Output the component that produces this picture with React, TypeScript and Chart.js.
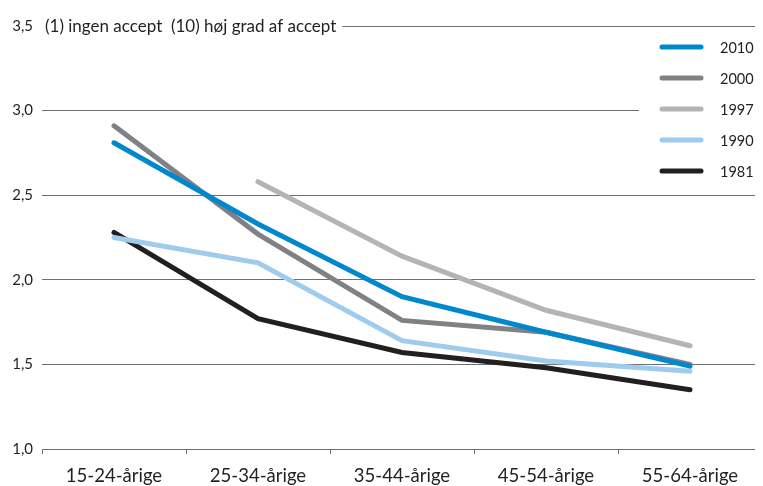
import React, { useEffect, useRef } from "react";
import { Chart, registerables } from "chart.js";

Chart.register(...registerables);

const categories = ["15-24-årige", "25-34-årige", "35-44-årige", "45-54-årige", "55-64-årige"];
const seriesLabels = ["2010", "2000", "1997", "1990", "1981"];
const values2010 = [2.81, 2.33, 1.9, 1.69, 1.49];
const values2000 = [2.91, 2.27, 1.76, 1.69, 1.5];
const values1997 = [null, 2.58, 2.14, 1.82, 1.61];
const values1990 = [2.25, 2.1, 1.64, 1.52, 1.46];
const values1981 = [2.28, 1.77, 1.57, 1.48, 1.35];
const seriesColors = ["#0088cf", "#808184", "#b3b4b7", "#9fcbed", "#231f20"];
const yTicks = [1.0, 1.5, 2.0, 2.5, 3.0, 3.5];
const titleText = "(1) ingen accept  (10) høj grad af accept";

const FONT = "Lato, 'Open Sans', sans-serif";
const TEXT = "#231f20";
const GRID = "#6d6e71";

const overlayPlugin = {
  id: "overlay",
  beforeDatasetsDraw(chart: any) {
    const { ctx, chartArea, scales } = chart;
    const y35 = scales.y.getPixelForValue(3.5);
    ctx.save();
    // title next to the top tick label
    ctx.font = `17px ${FONT}`;
    const tw = ctx.measureText(titleText).width;
    const tx = chartArea.left + 3;
    ctx.fillStyle = "#ffffff";
    ctx.fillRect(chartArea.left - 1, y35 - 10, tw + 10, 20);
    ctx.fillStyle = TEXT;
    ctx.textBaseline = "middle";
    ctx.textAlign = "left";
    ctx.fillText(titleText, tx, y35 + 1);
    // legend box
    const lx = 631;
    ctx.fillStyle = "#ffffff";
    ctx.fillRect(lx, y35 + 3, chart.width - lx, 160);
    chart.data.datasets.forEach((ds: any, i: number) => {
      const y = 39 + i * 31;
      ctx.strokeStyle = ds.borderColor;
      ctx.lineWidth = 5;
      ctx.lineCap = "round";
      ctx.beginPath();
      ctx.moveTo(654, y);
      ctx.lineTo(693, y);
      ctx.stroke();
      ctx.fillStyle = TEXT;
      ctx.font = `14.5px ${FONT}`;
      ctx.textBaseline = "middle";
      ctx.textAlign = "left";
      ctx.fillText(ds.label, 712, y + 1);
    });
    ctx.restore();
  },
};

export default function App() {
  const ref = useRef<HTMLCanvasElement | null>(null);
  useEffect(() => {
    document.documentElement.style.overflow = "hidden";
    document.body.style.overflow = "hidden";
    if (!ref.current) return;
    const seriesValues = [values2010, values2000, values1997, values1990, values1981];
    const chart = new Chart(ref.current, {
      type: "line",
      data: {
        labels: categories,
        datasets: seriesLabels.map((label, i) => ({
          label,
          data: seriesValues[i] as any,
          borderColor: seriesColors[i],
          backgroundColor: seriesColors[i],
          borderWidth: 5,
          pointRadius: 0,
          pointHoverRadius: 0,
          tension: 0,
          borderCapStyle: "round" as const,
          borderJoinStyle: "miter" as const,
          spanGaps: false,
        })),
      },
      options: {
        animation: false,
        responsive: false,
        maintainAspectRatio: false,
        layout: { padding: { top: 12, right: 1, left: 0, bottom: 0 } },
        plugins: {
          legend: { display: false },
          tooltip: { enabled: false },
        },
        scales: {
          x: {
            type: "category",
            offset: true,
            grid: {
              display: true,
              drawOnChartArea: false,
              drawTicks: true,
              tickLength: 5,
              offset: true,
              color: GRID,
              lineWidth: 1,
            },
            border: { display: true, color: GRID, width: 1 },
            ticks: {
              color: TEXT,
              font: { family: FONT, size: 18.5 },
              padding: 11,
              maxRotation: 0,
              autoSkip: false,
            },
            afterFit: (scale: any) => {
              scale.height = 37;
            },
          },
          y: {
            min: 1,
            max: 3.5,
            afterBuildTicks: (scale: any) => {
              scale.ticks = yTicks.map((v) => ({ value: v }));
            },
            grid: {
              color: GRID,
              lineWidth: 1,
              drawTicks: false,
            },
            border: { display: false },
            ticks: {
              color: TEXT,
              font: { family: FONT, size: 15 },
              padding: 9,
              callback: (v: any) => Number(v).toFixed(1).replace(".", ","),
            },
            afterFit: (scale: any) => {
              scale.width = 34;
            },
          },
        },
      },
      plugins: [overlayPlugin],
    });
    return () => chart.destroy();
  }, []);
  return (
    <div style={{ width: 755, height: 478 }}>
      <canvas ref={ref} width={755} height={478} style={{ width: 755, height: 478, display: "block" }} />
    </div>
  );
}
